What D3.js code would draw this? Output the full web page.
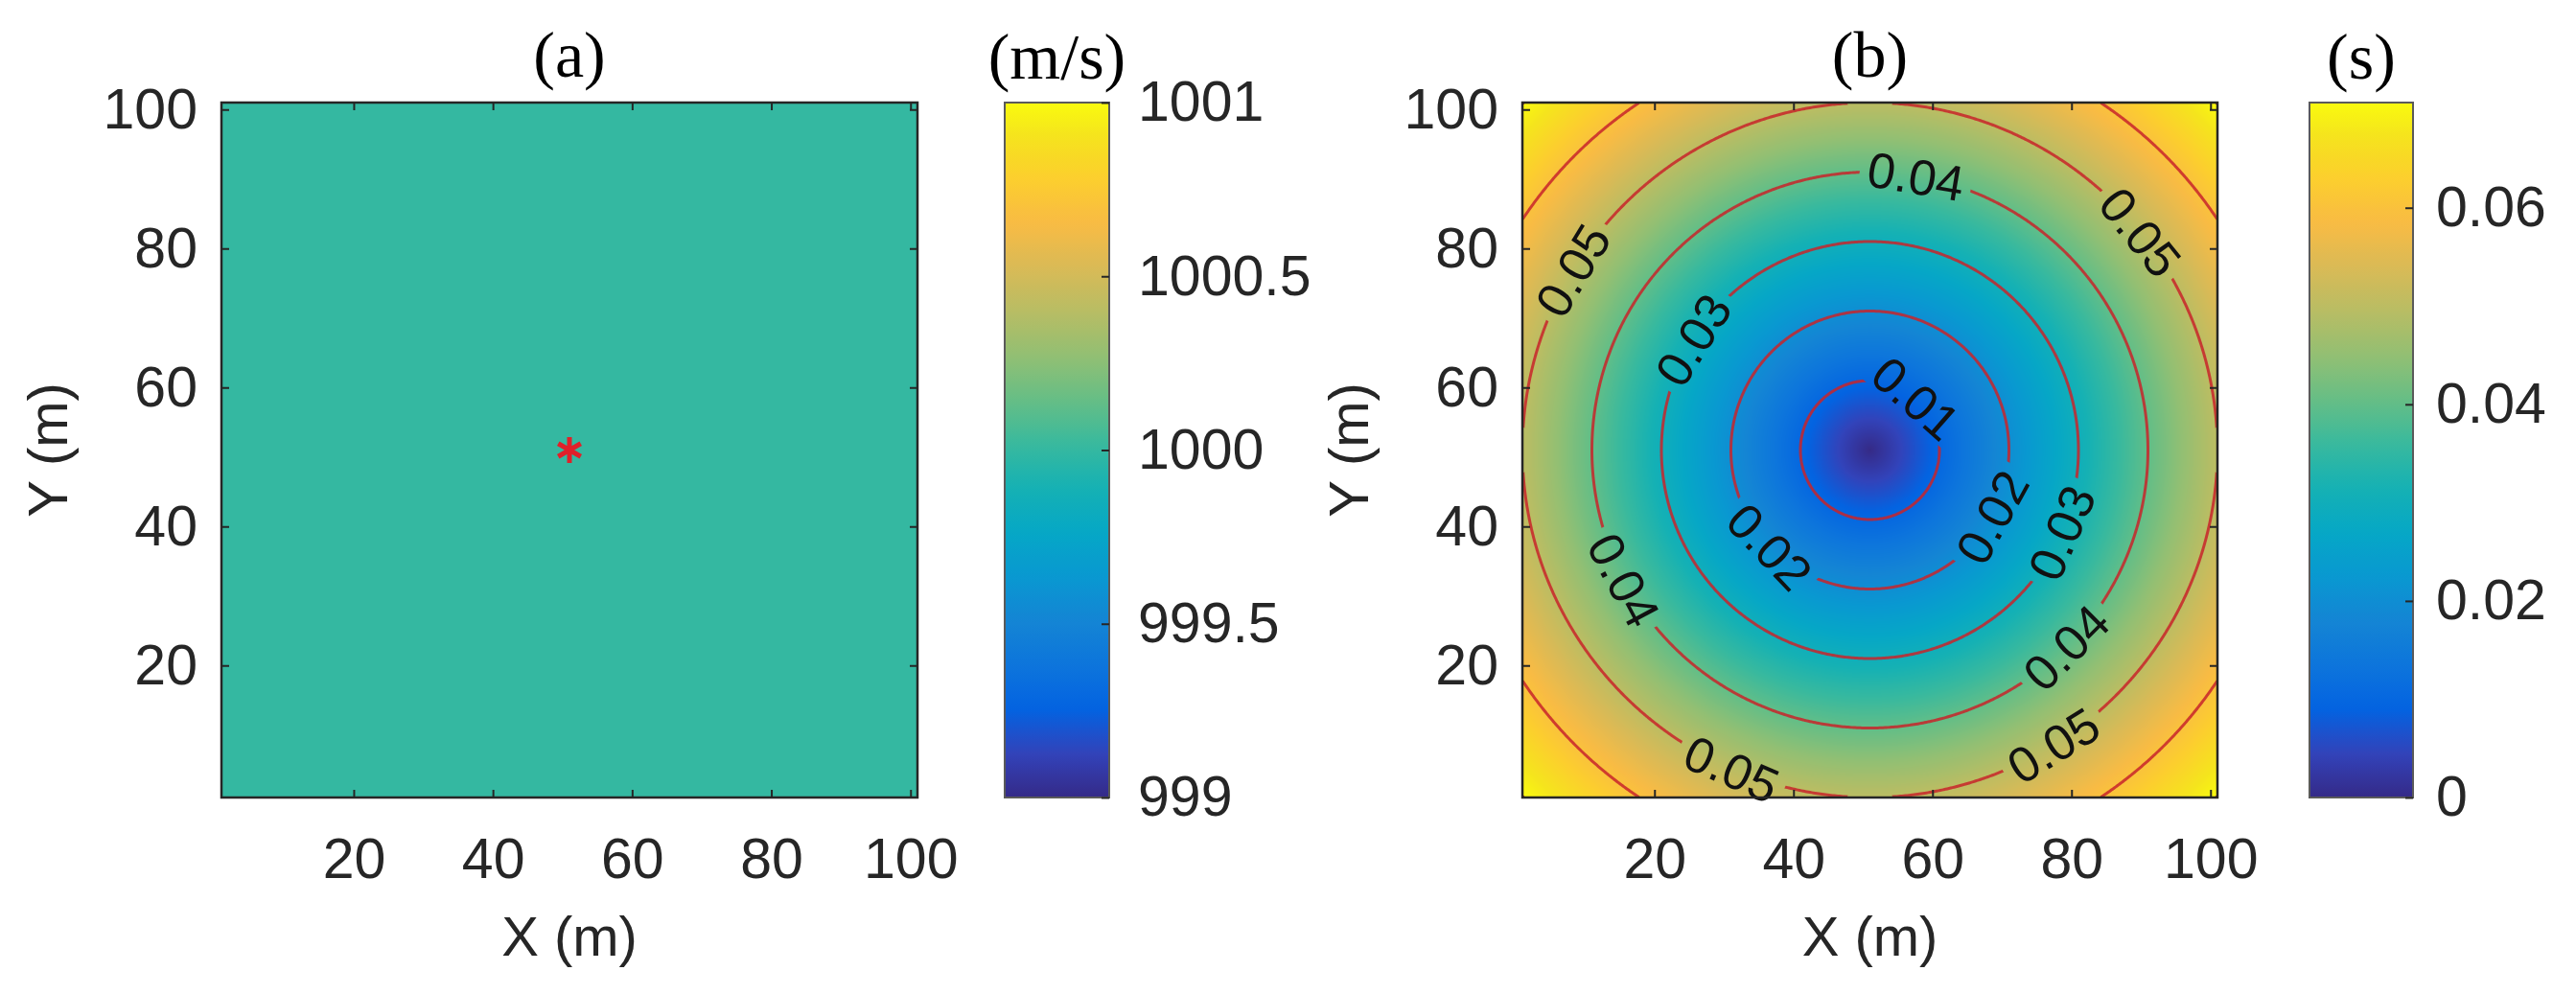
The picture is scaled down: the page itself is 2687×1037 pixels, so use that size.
<!DOCTYPE html>
<html>
<head>
<meta charset="utf-8">
<title>Velocity model and travel time</title>
<script src="https://cdn.jsdelivr.net/npm/d3@7"></script>
<style>
  html, body { margin:0; padding:0; background:#fff; overflow:hidden; }
  svg { display:block; }
</style>
</head>
<body>
<svg id="chart" width="2687" height="1037"></svg>
<script>
// ---- data ----
const xDomain = [1, 101];
const yDomain = [1, 101];
const axisTicks = [20, 40, 60, 80, 100];

// (a) homogeneous velocity model with the shot point
const velocity = 1000;            // m/s
const source = [51, 51];          // shot position (m)
const velRange = [999, 1001];
const velTicks = [999, 999.5, 1000, 1000.5, 1001];

// (b) first-arrival travel time
const timeRange = [0, 0.0707];
const timeTicks = [0, 0.02, 0.04, 0.06];
const contourLevels = [0.01, 0.02, 0.03, 0.04, 0.05, 0.06];
// where the contour labels sit (snapped to the line)
const labelLevels = [0.04, 0.05, 0.05, 0.03, 0.01, 0.02, 0.02, 0.03, 0.04, 0.05, 0.05, 0.04];
const labelX = [57.6, 89.6, 8.9, 26.1, 56.3, 37.1, 67.9, 78.1, 78.9, 76.9, 31.3, 15.8];
const labelY = [89.6, 82.0, 76.4, 66.4, 56.9, 37.6, 41.6, 39.2, 23.1, 9.1, 5.8, 32.3];

// parula colormap (every 4th entry of the 64 colour table)
const parulaIdx = [0, 4, 8, 12, 16, 20, 24, 28, 32, 36, 40, 44, 48, 52, 56, 60, 63];
const parulaHex = ["#352a87", "#3243ba", "#0363e1", "#0d75dc", "#1485d4", "#0998d1", "#06a7c6", "#15b1b4",
  "#38b99e", "#65be86", "#92bf73", "#b7bd64", "#d9ba56", "#f8bb44", "#fcce2e", "#f5e41d", "#f9fb0e"];

// ---- layout ----
const plotTop = 107, plotBottom = 832;
const panels = [
  { key: "a", left: 231, right: 957, cbLeft: 1048, cbRight: 1157, cbPad: 30, title: "(a)", unit: "(m/s)" },
  { key: "b", left: 1588, right: 2313, cbLeft: 2409, cbRight: 2517, cbPad: 24, title: "(b)", unit: "(s)" }
];
const sansFont = "'Liberation Sans', Arial, Helvetica, sans-serif";
const serifFont = "'Liberation Serif', 'Times New Roman', serif";
const ink = "#262626";

const parulaScale = d3.scaleLinear().domain(parulaIdx.map(i => i / 63)).range(parulaHex).clamp(true);
const velColor = d3.scaleSequential(t => parulaScale(t)).domain(velRange);
const timeColor = d3.scaleSequential(t => parulaScale(t)).domain(timeRange);

const velocityAt = (x, y) => velocity;
const travelTime = (x, y) => Math.hypot(x - source[0], y - source[1]) / velocity;

const svg = d3.select("#chart");
const defs = svg.append("defs");

function drawField(g, x, y, valueAt, color, clipId) {
  const x0 = x.range()[0], y0 = y.range()[1];
  const w = Math.round(x.range()[1] - x0), h = Math.round(y.range()[0] - y0);
  const cv = document.createElement("canvas");
  cv.width = w; cv.height = h;
  const ctx = cv.getContext("2d");
  const img = ctx.createImageData(w, h);
  const dom = color.domain();
  const lut = d3.range(1024).map(k => d3.rgb(color(dom[0] + (dom[1] - dom[0]) * k / 1023)));
  for (let j = 0; j < h; j++) {
    const yd = y.invert(y0 + j + 0.5);
    for (let i = 0; i < w; i++) {
      const xd = x.invert(x0 + i + 0.5);
      let t = (valueAt(xd, yd) - dom[0]) / (dom[1] - dom[0]);
      t = Math.max(0, Math.min(1, t));
      const c = lut[Math.round(t * 1023)];
      const o = 4 * (j * w + i);
      img.data[o] = c.r; img.data[o + 1] = c.g; img.data[o + 2] = c.b; img.data[o + 3] = 255;
    }
  }
  ctx.putImageData(img, 0, 0);
  g.append("image")
    .attr("x", x0).attr("y", y0).attr("width", w).attr("height", h)
    .attr("preserveAspectRatio", "none")
    .attr("clip-path", `url(#${clipId})`)
    .attr("href", cv.toDataURL());
}

function drawAxes(g, x, y) {
  const styleAxis = sel => {
    sel.select(".domain").remove();
    sel.selectAll(".tick line").attr("stroke", ink).attr("stroke-width", 2);
    sel.selectAll(".tick text").attr("fill", ink).style("font-family", sansFont).style("font-size", "59px");
  };
  g.append("g").attr("transform", `translate(0,${plotBottom})`)
    .call(d3.axisBottom(x).tickValues(axisTicks).tickSize(-8).tickPadding(42)).call(styleAxis);
  g.append("g").attr("transform", `translate(0,${plotTop})`)
    .call(d3.axisTop(x).tickValues(axisTicks).tickSize(-8).tickFormat("")).call(styleAxis);
  g.append("g").attr("transform", `translate(${x.range()[0]},0)`)
    .call(d3.axisLeft(y).tickValues(axisTicks).tickSize(-8).tickPadding(25)).call(styleAxis);
  g.append("g").attr("transform", `translate(${x.range()[1]},0)`)
    .call(d3.axisRight(y).tickValues(axisTicks).tickSize(-8).tickFormat("")).call(styleAxis);

  g.append("rect")
    .attr("x", x.range()[0]).attr("y", plotTop)
    .attr("width", x.range()[1] - x.range()[0]).attr("height", plotBottom - plotTop)
    .attr("fill", "none").attr("stroke", ink).attr("stroke-width", 2.5);

  const cx = (x.range()[0] + x.range()[1]) / 2;
  g.append("text").attr("x", cx).attr("y", 997).attr("text-anchor", "middle")
    .attr("fill", ink).style("font-family", sansFont).style("font-size", "58px").text("X (m)");
  g.append("text")
    .attr("transform", `translate(${x.range()[0] - 161},${(plotTop + plotBottom) / 2}) rotate(-90)`)
    .attr("text-anchor", "middle")
    .attr("fill", ink).style("font-family", sansFont).style("font-size", "58px").text("Y (m)");
}

function drawColorbar(g, p, color, ticks) {
  const cb = d3.scaleLinear().domain(color.domain()).range([plotBottom, plotTop]);
  const gid = "grad-" + p.key;
  const grad = defs.append("linearGradient").attr("id", gid)
    .attr("x1", 0).attr("y1", 1).attr("x2", 0).attr("y2", 0);
  const dom = color.domain();
  d3.range(65).forEach(k => {
    grad.append("stop").attr("offset", k / 64)
      .attr("stop-color", color(dom[0] + (dom[1] - dom[0]) * k / 64));
  });
  g.append("rect")
    .attr("x", p.cbLeft).attr("y", plotTop)
    .attr("width", p.cbRight - p.cbLeft).attr("height", plotBottom - plotTop)
    .attr("fill", `url(#${gid})`).attr("stroke", "#5a5a5a").attr("stroke-width", 2);
  const ax = g.append("g").attr("transform", `translate(${p.cbRight},0)`)
    .call(d3.axisRight(cb).tickValues(ticks).tickSize(-8).tickPadding(p.cbPad).tickFormat(d => String(d)));
  ax.select(".domain").remove();
  ax.selectAll(".tick line").attr("stroke", ink).attr("stroke-width", 2);
  ax.selectAll(".tick text").attr("fill", ink).style("font-family", sansFont).style("font-size", "59px");

  g.append("text").attr("x", (p.cbLeft + p.cbRight) / 2).attr("y", 82)
    .attr("text-anchor", "middle").attr("fill", "#000")
    .style("font-family", serifFont).style("font-size", "68px").text(p.unit);
}

function drawTitle(g, x, text) {
  g.append("text").attr("x", (x.range()[0] + x.range()[1]) / 2).attr("y", 80)
    .attr("text-anchor", "middle").attr("fill", "#000")
    .style("font-family", serifFont).style("font-size", "68px").text(text);
}

// split a d3.contours ring into open lines, dropping the parts on the grid border
function splitRing(ring, n) {
  const onB = (a, b) => (a[0] === 0 && b[0] === 0) || (a[0] === n && b[0] === n) ||
                        (a[1] === 0 && b[1] === 0) || (a[1] === n && b[1] === n);
  const m = ring.length - 1;
  let start = -1;
  for (let k = 0; k < m; k++) if (onB(ring[k], ring[k + 1])) { start = k; break; }
  if (start < 0) return [{ pts: ring.slice(), closed: true }];
  const lines = [];
  let cur = [];
  for (let s = 1; s <= m; s++) {
    const k = (start + s) % m;
    const a = ring[k], b = ring[k + 1];
    if (onB(a, b)) {
      if (cur.length > 1) lines.push({ pts: cur, closed: false });
      cur = [];
    } else {
      if (!cur.length) cur.push(a);
      cur.push(b);
    }
  }
  if (cur.length > 1) lines.push({ pts: cur, closed: false });
  return lines;
}

panels.forEach(p => {
  const g = svg.append("g");
  const x = d3.scaleLinear().domain(xDomain).range([p.left, p.right]);
  const y = d3.scaleLinear().domain(yDomain).range([plotBottom, plotTop]);
  const clipId = "clip-" + p.key;
  defs.append("clipPath").attr("id", clipId).append("rect")
    .attr("x", p.left).attr("y", plotTop).attr("width", p.right - p.left).attr("height", plotBottom - plotTop);

  if (p.key === "a") {
    drawField(g, x, y, velocityAt, velColor, clipId);
    g.append("path")
      .attr("transform", `translate(${x(source[0])},${y(source[1])})`)
      .attr("d", d3.symbol(d3.symbolAsterisk || d3.symbolCross, 520)())
      .attr("fill", "none").attr("stroke", "#e0202a").attr("stroke-width", 5);
    drawColorbar(g, p, velColor, velTicks);
  } else {
    drawField(g, x, y, travelTime, timeColor, clipId);

    // contour lines
    const n = 400;
    const step = (xDomain[1] - xDomain[0]) / n;
    const grid = new Float64Array(n * n);
    for (let j = 0; j < n; j++)
      for (let i = 0; i < n; i++)
        grid[j * n + i] = travelTime(xDomain[0] + (i + 0.5) * step, yDomain[0] + (j + 0.5) * step);
    const cons = d3.contours().size([n, n]).thresholds(contourLevels)(grid);
    const toPx = c => [x(xDomain[0] + c[0] * step), y(yDomain[0] + c[1] * step)];
    const levelLines = cons.map(c => {
      const lines = [];
      c.coordinates.forEach(poly => poly.forEach(ring =>
        splitRing(ring, n).forEach(l => lines.push({ pts: l.pts.map(toPx), closed: l.closed }))));
      return { value: c.value, lines };
    });

    // labels
    const fs = 52;
    const labels = labelLevels.map((lv, k) => {
      const tx = x(labelX[k]), ty = y(labelY[k]);
      const entry = levelLines.find(d => Math.abs(d.value - lv) < 1e-9);
      let best = null;
      entry.lines.forEach(l => l.pts.forEach((pt, i) => {
        const d = (pt[0] - tx) ** 2 + (pt[1] - ty) ** 2;
        if (!best || d < best.d) best = { d, l, i };
      }));
      const pts = best.l.pts, m = pts.length;
      const get = i => best.l.closed ? pts[((i % (m - 1)) + (m - 1)) % (m - 1)] : pts[Math.max(0, Math.min(m - 1, i))];
      const a = get(best.i - 5), b = get(best.i + 5);
      let ang = Math.atan2(b[1] - a[1], b[0] - a[0]) * 180 / Math.PI;
      if (ang > 90) ang -= 180;
      if (ang <= -90) ang += 180;
      return { lv, px: pts[best.i][0], py: pts[best.i][1], ang };
    });

    const maskId = "gap-" + p.key;
    const mask = defs.append("mask").attr("id", maskId).attr("maskUnits", "userSpaceOnUse")
      .attr("x", 0).attr("y", 0).attr("width", 2687).attr("height", 1037);
    mask.append("rect").attr("x", 0).attr("y", 0).attr("width", 2687).attr("height", 1037).attr("fill", "#fff");

    const lineGen = d3.line();
    g.append("g").attr("clip-path", `url(#${clipId})`)
      .append("g").attr("mask", `url(#${maskId})`)
      .selectAll("path")
      .data(levelLines.flatMap(d => d.lines))
      .join("path")
      .attr("d", d => lineGen(d.pts))
      .attr("fill", "none")
      .attr("stroke", "#c8242a")
      .attr("stroke-opacity", 0.85)
      .attr("stroke-width", 3);

    const lab = g.append("g").selectAll("text")
      .data(labels)
      .join("text")
      .attr("transform", d => `translate(${d.px},${d.py}) rotate(${d.ang})`)
      .attr("text-anchor", "middle")
      .attr("dy", "0.36em")
      .attr("fill", "#111")
      .style("font-family", sansFont)
      .style("font-size", fs + "px")
      .text(d => String(d.lv));

    lab.each(function (d) {
      const w = this.getComputedTextLength() + 16;
      mask.append("rect")
        .attr("x", -w / 2).attr("y", -fs * 0.42).attr("width", w).attr("height", fs * 0.84)
        .attr("transform", `translate(${d.px},${d.py}) rotate(${d.ang})`)
        .attr("fill", "#000");
    });

    drawColorbar(g, p, timeColor, timeTicks);
  }

  drawAxes(g, x, y);
  drawTitle(g, x, p.title);
});
</script>
</body>
</html>
